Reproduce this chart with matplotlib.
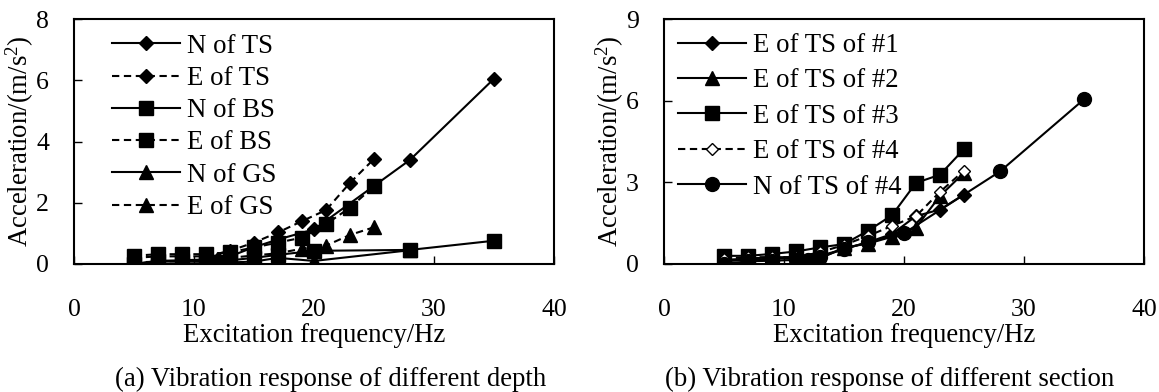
import matplotlib
matplotlib.use('Agg')
import matplotlib.pyplot as plt

plt.rcParams['font.family'] = ['Liberation Serif', 'DejaVu Serif']
plt.rcParams['mathtext.fontset'] = 'custom'
plt.rcParams['mathtext.rm'] = 'Liberation Serif'
plt.rcParams['mathtext.it'] = 'Liberation Serif:italic'

# (a) different depth
n_x = [5, 7, 9, 11, 12, 13, 15, 17, 20, 28, 35]
e_x = [5, 7, 9, 11, 13, 15, 17, 19, 21, 23, 25]
n_ts = [0.0, 0.1, 0.12, 0.15, 0.15, 0.25, 0.55, 0.8, 1.13, 3.4, 6.05]
e_ts = [0.2, 0.25, 0.25, 0.25, 0.43, 0.7, 1.03, 1.4, 1.76, 2.65, 3.43]
n_bs = [0.0, 0.1, 0.1, 0.1, 0.05, 0.12, 0.2, 0.3, 0.43, 0.46, 0.76]
e_bs = [0.27, 0.32, 0.32, 0.32, 0.38, 0.54, 0.7, 0.86, 1.3, 1.84, 2.54]
ngs_x = [5, 7, 9, 11, 12, 13, 15, 17, 20, 28]
n_gs = [0.0, 0.02, 0.02, 0.03, 0.02, 0.05, 0.08, 0.2, 0.1, 0.45]
e_gs = [0.05, 0.08, 0.1, 0.12, 0.2, 0.28, 0.35, 0.5, 0.6, 0.95, 1.2]

# (b) different section
e1 = [0.15, 0.2, 0.25, 0.25, 0.3, 0.55, 0.8, 1.1, 1.76, 2.0, 2.55]
e2 = [0.1, 0.15, 0.2, 0.2, 0.2, 0.6, 0.75, 1.0, 1.34, 2.5, 3.35]
e3 = [0.3, 0.3, 0.37, 0.46, 0.61, 0.73, 1.22, 1.79, 2.98, 3.28, 4.22]
e4 = [0.2, 0.25, 0.25, 0.25, 0.43, 0.7, 1.03, 1.4, 1.76, 2.65, 3.43]
n4 = n_ts

W, H = 1159, 392
fig = plt.figure(figsize=(W / 100, H / 100), dpi=100)
ax1 = fig.add_axes([74 / W, 1 - 264 / H, 480 / W, (264 - 19) / H])
ax2 = fig.add_axes([664 / W, 1 - 264 / H, 480 / W, (264 - 19) / H])

lw = 1.5
dash = (0, (3.5, 2.2))
fs = 19.3
tfs = 18.5

ax1.plot(n_x, n_ts, '-', color='k', lw=lw, marker='D', ms=7, label='N of TS')
ax1.plot(e_x, e_ts, linestyle=dash, color='k', lw=lw, marker='D', ms=7, label='E of TS')
ax1.plot(n_x, n_bs, '-', color='k', lw=lw, marker='s', ms=10, label='N of BS')
ax1.plot(e_x, e_bs, linestyle=dash, color='k', lw=lw, marker='s', ms=10, label='E of BS')
ax1.plot(ngs_x, n_gs, '-', color='k', lw=lw, marker='^', ms=10, label='N of GS')
ax1.plot(e_x, e_gs, linestyle=dash, color='k', lw=lw, marker='^', ms=10, label='E of GS')

ax2.plot(e_x, e1, '-', color='k', lw=lw, marker='D', ms=7, label='E of TS of #1')
ax2.plot(e_x, e2, '-', color='k', lw=lw, marker='^', ms=10, label='E of TS of #2')
ax2.plot(e_x, e3, '-', color='k', lw=lw, marker='s', ms=10, label='E of TS of #3')
ax2.plot(e_x, e4, linestyle=dash, color='k', lw=lw, marker='D', ms=6.5,
         mfc='white', mec='k', label='E of TS of #4')
ax2.plot(n_x, n4, '-', color='k', lw=lw, marker='o', ms=10, label='N of TS of #4')

for ax, ymax, yt in [(ax1, 8, [0, 2, 4, 6, 8]), (ax2, 9, [0, 3, 6, 9])]:
    ax.set_xlim(0, 40)
    ax.set_ylim(0, ymax)
    ax.set_xticks([0, 10, 20, 30, 40])
    ax.set_yticks(yt)
    ax.tick_params(axis='x', direction='in', length=6, width=1, pad=25, labelsize=tfs)
    ax.tick_params(axis='y', direction='in', length=6, width=1, pad=18, labelsize=tfs)
    for sp in ax.spines.values():
        sp.set_linewidth(1.5)
    ax.set_xlabel('Excitation frequency/Hz', fontsize=fs, labelpad=2)
    ax.set_ylabel('Acceleration/(m/s$^\\mathrm{2}$)', fontsize=fs)
    ax.yaxis.set_label_coords(-38 / 480, 0.5)

ax1.legend(loc='upper left', bbox_to_anchor=(0.048, 1.0), frameon=False, fontsize=fs,
           handlelength=2.54, handletextpad=0.26, labelspacing=0.27, borderpad=0.2,
           borderaxespad=0.35)
ax2.legend(loc='upper left', bbox_to_anchor=(0.0, 1.0), frameon=False, fontsize=fs,
           handlelength=2.54, handletextpad=0.26, labelspacing=0.39, borderpad=0.2,
           borderaxespad=0.32)

fig.text(331 / W, 1 - 379 / H, '(a) Vibration response of different depth',
         ha='center', va='center', fontsize=fs)
fig.text(890 / W, 1 - 379 / H, '(b) Vibration response of different section',
         ha='center', va='center', fontsize=fs)

fig.savefig('out.png', dpi=100, facecolor='white')
